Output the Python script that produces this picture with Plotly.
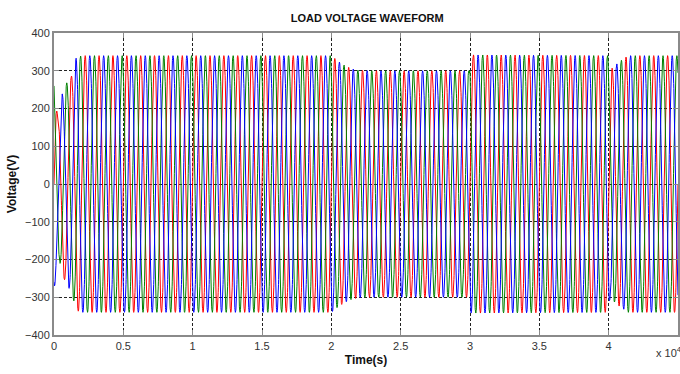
import numpy as np
import plotly.graph_objects as go

# ---- data (time in units of x10^4) ----
env_time = [0.0, 0.012, 0.025, 0.06, 0.092, 0.125, 0.16, 0.2,
            2.0, 2.05, 2.1, 2.15, 2.2, 2.3, 2.995, 3.0,
            3.995, 4.01, 4.07, 4.14, 4.5]
env_peak = [300, 240, 180, 240, 268, 285, 335, 340,
            340, 325, 313, 305, 301, 300, 300, 342,
            340, 302, 322, 340, 340]
phase_names = ["Va", "Vb", "Vc"]
phase_shift_deg = [0, 120, -120]
phase_colors = ["#FF0000", "#008000", "#0000FF"]
cycles_per_unit = 10          # 50 Hz -> 0.1 x10^4 per cycle
t_end = 4.5
x_tick_vals = [0, 0.5, 1, 1.5, 2, 2.5, 3, 3.5, 4, 4.5]
x_tick_text = ["0", "0.5", "1", "1.5", "2", "2.5", "3", "3.5", "4", "4.5"]
y_tick_vals = [-400, -300, -200, -100, 0, 100, 200, 300, 400]

t = np.linspace(0, t_end, 4501)
amp = np.interp(t, env_time, env_peak)

fig = go.Figure()
for name, sh, col in zip(phase_names, phase_shift_deg, phase_colors):
    v = amp * np.sin(2 * np.pi * cycles_per_unit * t + np.deg2rad(sh))
    fig.add_trace(go.Scatter(x=t, y=v, mode="lines", name=name,
                             line=dict(color=col, width=1), showlegend=False))

axis_common = dict(
    showline=True, linecolor="#8a8a8a", linewidth=2, mirror="ticks",
    ticks="inside", ticklen=5, tickcolor="#8a8a8a",
    showgrid=True, gridcolor="#222222", gridwidth=1, griddash="3px,2px",
    zeroline=False, tickfont=dict(family="Liberation Sans, Arial", size=11, color="#333333"),
)

fig.update_layout(
    width=680, height=374,
    margin=dict(l=54, r=0, t=33, b=39),
    paper_bgcolor="white", plot_bgcolor="white",
    title=dict(text="<b>LOAD VOLTAGE WAVEFORM</b>", x=0.54, xanchor="center",
               y=1 - 18 / 374, yanchor="middle",
               font=dict(family="Liberation Sans, Arial", size=11, color="#111111")),
    xaxis=dict(range=[0, t_end], tickvals=x_tick_vals, ticktext=x_tick_text,
               title=dict(text="<b>Time(s)</b>", standoff=4,
                          font=dict(family="Liberation Sans, Arial", size=12, color="#111111")),
               **axis_common),
    yaxis=dict(range=[-400, 400], tickvals=y_tick_vals,
               title=dict(text="<b>Voltage(V)</b>", standoff=6,
                          font=dict(family="Liberation Sans, Arial", size=12, color="#111111")),
               **axis_common),
)

fig.add_annotation(text="x 10<sup>4</sup>", xref="paper", yref="paper",
                   x=(656 - 54) / 626, y=-(352 - 335) / 302, xanchor="left", yanchor="middle",
                   showarrow=False,
                   font=dict(family="Liberation Sans, Arial", size=11, color="#333333"))

fig.write_html("out.html")
